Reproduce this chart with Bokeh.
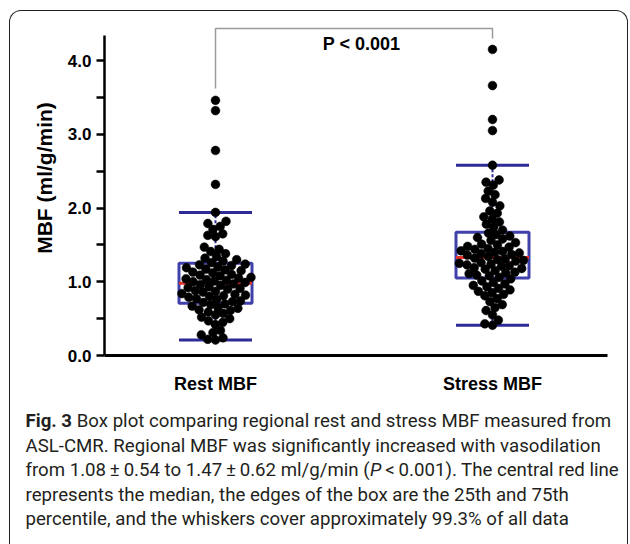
import glob
import os
import struct

from bokeh.embed import file_html
from bokeh.layouts import column
from bokeh.models import FixedTicker, InlineStyleSheet, Label, PrintfTickFormatter, Range1d
from bokeh.plotting import figure
from bokeh.resources import INLINE

# ---------------- data ----------------
categories = ["Rest MBF", "Stress MBF"]
cat_x = [1, 2]

rest_mbf = [
    3.46, 3.32, 2.78, 2.32, 1.94, 1.82, 1.79, 1.75, 1.71, 1.65, 1.63, 1.61,
    1.47, 1.44, 1.41, 1.38, 1.34, 1.32, 1.30, 1.28, 1.26,
    1.24, 1.23, 1.22, 1.20, 1.19, 1.17, 1.16, 1.15, 1.13, 1.12, 1.10, 1.09,
    1.08, 1.06, 1.05, 1.04, 1.03, 1.02, 1.01, 1.00, 0.99,
    0.97, 0.96, 0.95, 0.93, 0.92, 0.91, 0.90, 0.88, 0.87, 0.86, 0.84, 0.83,
    0.82, 0.81, 0.80, 0.79, 0.77, 0.76, 0.74, 0.73, 0.72,
    0.70, 0.69, 0.67, 0.65, 0.64, 0.62, 0.61, 0.59, 0.57, 0.55, 0.52, 0.50,
    0.47, 0.45, 0.42, 0.34, 0.31, 0.28, 0.24, 0.22, 0.21,
]
stress_mbf = [
    4.15, 3.66, 3.20, 3.05, 2.58, 2.38, 2.35, 2.31, 2.23, 2.18, 2.13, 2.08,
    2.03, 1.96, 1.93, 1.88, 1.85, 1.81, 1.78, 1.74, 1.70,
    1.66, 1.64, 1.62, 1.60, 1.58, 1.56, 1.53, 1.51, 1.50, 1.48, 1.47, 1.45,
    1.44, 1.42, 1.41, 1.40, 1.39, 1.38, 1.37, 1.36, 1.34,
    1.32, 1.31, 1.30, 1.29, 1.28, 1.26, 1.25, 1.24, 1.23, 1.22, 1.21, 1.19,
    1.18, 1.17, 1.15, 1.13, 1.12, 1.11, 1.09, 1.08, 1.06,
    1.04, 1.01, 0.99, 0.97, 0.95, 0.93, 0.91, 0.89, 0.87, 0.85, 0.83, 0.81,
    0.77, 0.73, 0.69, 0.65, 0.61, 0.55, 0.48, 0.43, 0.41,
]

box_q1 = [0.71, 1.05]
box_median = [0.98, 1.33]
box_q3 = [1.25, 1.67]
whisker_lo = [0.21, 0.41]
whisker_hi = [1.94, 2.58]

y_ticks = [0, 1, 2, 3, 4]
y_minor_ticks = [0.5, 1.5, 2.5, 3.5]
y_axis_title = "MBF (ml/g/min)"
p_value_text = "P < 0.001"

caption_fig = "Fig. 3"
caption_line1 = "Box plot comparing regional rest and stress MBF measured from"
caption_line2 = "ASL-CMR. Regional MBF was significantly increased with vasodilation"
caption_line3a = "from 1.08\u2009\u00b1\u20090.54 to 1.47\u2009\u00b1\u20090.62 ml/g/min ("
caption_line3p = "P"
caption_line3b = "<\u20090.001). The central red line"
caption_line4 = "represents the median, the edges of the box are the 25th and 75th"
caption_line5 = "percentile, and the whiskers cover approximately 99.3% of all data"

# ---------------- layout constants (picture pixels) ----------------
W = 630
H_CHART, H_CAP = 400, 144
FRAME_L, FRAME_R, FRAME_T, FRAME_B = 104, 607, 0, 355
PX_PER_X = 277.0
PX_PER_Y = 73.75
X_START = cat_x[0] - (215 - FRAME_L) / PX_PER_X
X_END = X_START + (FRAME_R - FRAME_L) / PX_PER_X
Y_END = (FRAME_B - FRAME_T) / PX_PER_Y


def dx(px):
    return X_START + (px - FRAME_L) / PX_PER_X


def dy(py):
    return (FRAME_B - py) / PX_PER_Y


# ---------------- font metrics for caption segments ----------------
def _find_font(names):
    dirs = ["/usr/share/fonts", "/usr/local/share/fonts",
            os.path.expanduser("~/.fonts"), os.path.expanduser("~/.local/share/fonts")]
    for n in names:
        for d in dirs:
            hits = glob.glob(os.path.join(d, "**", n), recursive=True)
            if hits:
                return hits[0]
    return None


def _parse_font(path):
    data = open(path, "rb").read()
    num = struct.unpack(">H", data[4:6])[0]
    tabs = {}
    for i in range(num):
        tag, _, off, ln = struct.unpack(">4sIII", data[12 + 16 * i:28 + 16 * i])
        tabs[tag.decode("latin1")] = off
    upem = struct.unpack(">H", data[tabs["head"] + 18:tabs["head"] + 20])[0]
    nhm = struct.unpack(">H", data[tabs["hhea"] + 34:tabs["hhea"] + 36])[0]
    adv = [struct.unpack(">H", data[tabs["hmtx"] + 4 * i:tabs["hmtx"] + 4 * i + 2])[0] for i in range(nhm)]
    c = tabs["cmap"]
    nsub = struct.unpack(">H", data[c + 2:c + 4])[0]
    sub = None
    for i in range(nsub):
        pid, eid, off = struct.unpack(">HHI", data[c + 4 + 8 * i:c + 12 + 8 * i])
        fmt = struct.unpack(">H", data[c + off:c + off + 2])[0]
        if fmt == 4 and ((pid == 3 and eid == 1) or pid == 0):
            sub = c + off
            break
    seg2 = struct.unpack(">H", data[sub + 6:sub + 8])[0]
    segs = seg2 // 2
    ends = struct.unpack(">%dH" % segs, data[sub + 14:sub + 14 + seg2])
    starts = struct.unpack(">%dH" % segs, data[sub + 16 + seg2:sub + 16 + 2 * seg2])
    deltas = struct.unpack(">%dh" % segs, data[sub + 16 + 2 * seg2:sub + 16 + 3 * seg2])
    ro_pos = sub + 16 + 3 * seg2
    ros = struct.unpack(">%dH" % segs, data[ro_pos:ro_pos + seg2])

    def gid(ch):
        code = ord(ch)
        for i in range(segs):
            if ends[i] >= code:
                if starts[i] > code:
                    return 0
                if ros[i] == 0:
                    return (code + deltas[i]) & 0xFFFF
                addr = ro_pos + 2 * i + ros[i] + 2 * (code - starts[i])
                g = struct.unpack(">H", data[addr:addr + 2])[0]
                return (g + deltas[i]) & 0xFFFF if g else 0
        return 0

    def width_em(text):
        tot = 0
        for ch in text:
            g = gid(ch)
            if g == 0:
                tot += 0.25 * upem if ch.isspace() else 0.5 * upem
            else:
                tot += adv[min(g, nhm - 1)]
        return tot / upem
    return width_em


def _metric(names, fallback):
    try:
        path = _find_font(names)
        if path:
            return _parse_font(path)
    except Exception:
        pass
    return lambda t: fallback * len(t)


CAP_FONT = "Roboto"
w_reg = _metric(["Roboto-Regular.ttf"], 0.49)
w_bold = _metric(["Roboto-Bold.ttf"], 0.52)
w_ital = _metric(["Roboto-Italic.ttf"], 0.48)

X_CAP, X_CAP_END = 25, 612
cap_size = (X_CAP_END - X_CAP) / (w_bold(caption_fig) + w_reg(" " + caption_line1))
cap_size = max(15.0, min(19.0, cap_size))

# ---------------- chart figure ----------------
p = figure(width=W, height=H_CHART, output_backend="svg", toolbar_location=None,
           x_range=Range1d(X_START, X_END), y_range=Range1d(0, Y_END),
           min_border_left=FRAME_L, min_border_right=W - FRAME_R,
           min_border_top=FRAME_T, min_border_bottom=H_CHART - FRAME_B)
p.frame_align = False
p.outline_line_color = None
p.grid.visible = False
p.background_fill_color = "white"
p.border_fill_color = "white"

AX_FONT = "Liberation Sans"
p.yaxis.ticker = FixedTicker(ticks=y_ticks, minor_ticks=y_minor_ticks)
p.yaxis.formatter = PrintfTickFormatter(format="%.1f")
p.yaxis.bounds = (0, 4.34)
p.yaxis.axis_line_width = 2.5
p.yaxis.major_tick_line_width = 2.5
p.yaxis.minor_tick_line_width = 2.5
p.yaxis.major_tick_out = 8
p.yaxis.major_tick_in = 0
p.yaxis.minor_tick_out = 8
p.yaxis.minor_tick_in = 0
p.yaxis.major_label_standoff = 5
p.yaxis.major_label_text_font = AX_FONT
p.yaxis.major_label_text_font_style = "bold"
p.yaxis.major_label_text_font_size = "17px"
p.yaxis.major_label_text_color = "black"
p.yaxis.axis_label = y_axis_title
p.yaxis.axis_label_text_font = AX_FONT
p.yaxis.axis_label_text_font_style = "bold"
p.yaxis.axis_label_text_font_size = "21px"
p.yaxis.axis_label_text_color = "black"
p.yaxis.axis_label_standoff = 9

p.xaxis.ticker = FixedTicker(ticks=cat_x)
p.xaxis.major_label_overrides = dict(zip(cat_x, categories))
p.xaxis.axis_line_width = 3
p.xaxis.major_tick_out = 0
p.xaxis.major_tick_in = 0
p.xaxis.major_label_standoff = 18
p.xaxis.major_label_text_font = AX_FONT
p.xaxis.major_label_text_font_style = "bold"
p.xaxis.major_label_text_font_size = "18px"
p.xaxis.major_label_text_color = "black"

# ---------------- boxes ----------------
HALF = 36.5 / PX_PER_X
BOX_BLUE = "#4040aa"
CAP_BLUE = "#2e2a98"
lefts = [x - HALF for x in cat_x]
rights = [x + HALF for x in cat_x]
p.segment(x0=cat_x, y0=box_q3, x1=cat_x, y1=whisker_hi, line_color=CAP_BLUE,
          line_width=2, line_dash="3 2")
p.segment(x0=cat_x, y0=box_q1, x1=cat_x, y1=whisker_lo, line_color=CAP_BLUE,
          line_width=2, line_dash="3 2")
p.quad(left=lefts, right=rights, bottom=box_q1, top=box_q3, fill_color=None,
       line_color=BOX_BLUE, line_width=3)
p.segment(x0=lefts, y0=whisker_hi, x1=rights, y1=whisker_hi, line_color=CAP_BLUE, line_width=3)
p.segment(x0=lefts, y0=whisker_lo, x1=rights, y1=whisker_lo, line_color=CAP_BLUE, line_width=3)
p.segment(x0=lefts, y0=box_median, x1=rights, y1=box_median, line_color="#e3342a", line_width=3)


# ---------------- beeswarm points ----------------
def swarm_offsets(vals, d):
    order = sorted(range(len(vals)), key=lambda i: vals[i])
    placed = []
    offs = [0.0] * len(vals)
    for i in order:
        y = vals[i] * PX_PER_Y
        near = [(px, py) for (px, py) in placed if abs(py - y) < d]
        cands = [0.0]
        for px, py in near:
            h = (d * d - (py - y) ** 2) ** 0.5
            cands += [px + h, px - h]
        cands.sort(key=lambda c: (abs(c), c))
        best = cands[-1]
        for c in cands:
            if all((c - px) ** 2 + (y - py) ** 2 >= d * d - 1e-6 for px, py in near):
                best = c
                break
        placed.append((best, y))
        offs[i] = best / PX_PER_X
    return offs


for cx, vals in zip(cat_x, [rest_mbf, stress_mbf]):
    offs = swarm_offsets(vals, 7.8)
    p.scatter(x=[cx + o for o in offs], y=vals, size=8.8, marker="circle",
              fill_color="black", line_color="black", line_width=0.5)

# ---------------- significance bracket ----------------
p.line(x=[cat_x[0], cat_x[0], cat_x[1], cat_x[1]],
       y=[dy(88), dy(28), dy(28), dy(38)], line_color="#9a9a9a", line_width=1.5)
p.add_layout(Label(x=dx(361), y=dy(43), text=p_value_text, text_align="center",
                   text_baseline="middle", text_font=AX_FONT, text_font_style="bold",
                   text_font_size="18px", text_color="black"))

# ---------------- caption figure (data units = picture pixels) ----------------
cap = figure(width=W, height=H_CAP, output_backend="svg", toolbar_location=None,
             x_range=Range1d(0, W), y_range=Range1d(H_CHART + H_CAP, H_CHART),
             x_axis_location=None, y_axis_location=None, min_border=0,
             min_border_left=0, min_border_right=0, min_border_top=0, min_border_bottom=0)
cap.frame_align = False
cap.outline_line_color = None
cap.grid.visible = False
cap.background_fill_color = "white"
cap.border_fill_color = "white"

CAP_COLOR = "#231f20"
line_y = [420.5, 445, 469.5, 494, 518.5]


def cap_label(x_px, y_px, text, style="normal"):
    cap.add_layout(Label(x=x_px, y=y_px, text=text, text_align="left",
                         text_baseline="middle", text_font=CAP_FONT,
                         text_font_style=style, text_font_size="%.2fpx" % cap_size,
                         text_color=CAP_COLOR))


wf = w_bold(caption_fig) * cap_size
sp = w_reg(" ") * cap_size
thin = w_reg("\u2009") * cap_size
cap_label(X_CAP, line_y[0], caption_fig, "bold")
cap_label(X_CAP + wf + sp, line_y[0], caption_line1)
cap_label(X_CAP, line_y[1], caption_line2)
wa = w_reg(caption_line3a) * cap_size
wp = w_ital(caption_line3p) * cap_size
cap_label(X_CAP, line_y[2], caption_line3a)
cap_label(X_CAP + wa, line_y[2], caption_line3p, "italic")
cap_label(X_CAP + wa + wp + thin, line_y[2], caption_line3b)
cap_label(X_CAP, line_y[3], caption_line4)
cap_label(X_CAP, line_y[4], caption_line5)

# ---------------- rounded figure frame (CSS) ----------------
frame_css = InlineStyleSheet(css="""
:host { position: relative; }
:host::after {
  content: "";
  position: absolute;
  left: 9px; top: 10px; width: 619px; height: 534px;
  box-sizing: border-box;
  border: 1.5px solid #231f20;
  border-bottom: none;
  border-radius: 12px 12px 0 0;
  pointer-events: none;
  z-index: 10;
}
""")

layout = column(p, cap, spacing=0, stylesheets=[frame_css])

open("out.html", "w").write(file_html(layout, INLINE))
